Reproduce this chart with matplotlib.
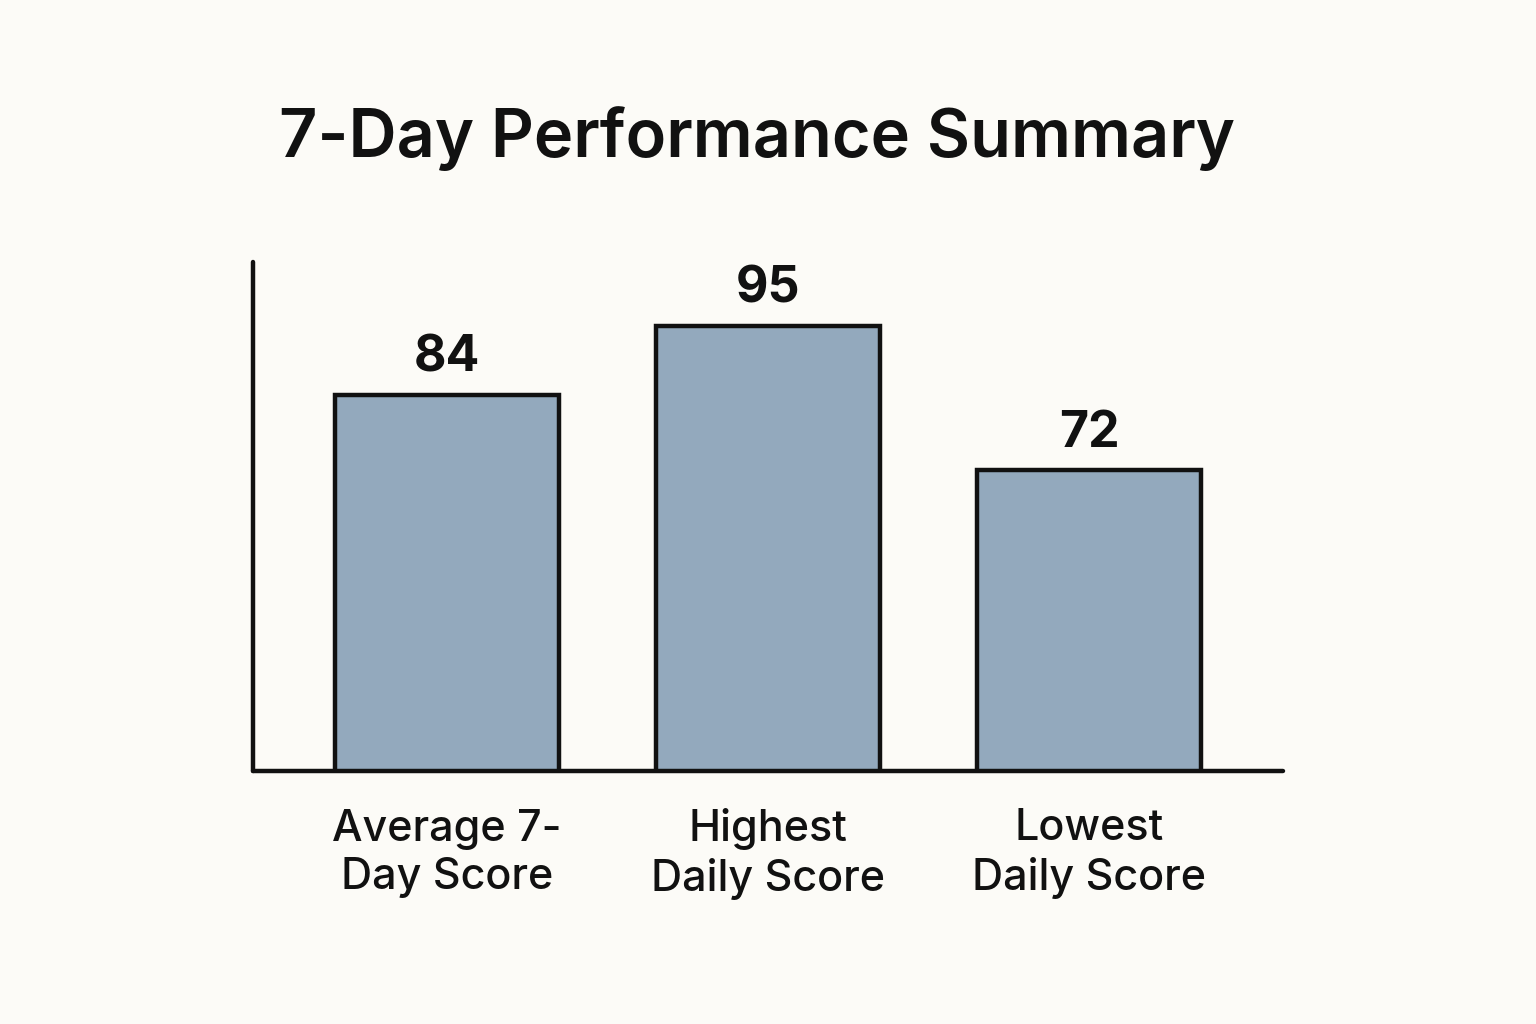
import numpy as np
import matplotlib.pyplot as plt

categories = ['Average 7-\nDay Score', 'Highest\nDaily Score', 'Lowest\nDaily Score']
scores = [84, 95, 72]

bg = '#fcfbf7'
bar_color = '#93a9bd'
ink = '#111111'

plt.rcParams['font.family'] = ['Inter', 'DejaVu Sans']

fig = plt.figure(figsize=(15.36, 10.24), dpi=100, facecolor=bg)
ax = fig.add_axes([253/1536, 1-771/1024, (1283-253)/1536, (771-262)/1024])
ax.set_facecolor(bg)

x = np.arange(len(scores))
ax.bar(x, scores, width=0.70, color=bar_color, edgecolor=ink, linewidth=3.2, zorder=2)

for xi, v in zip(x, scores):
    ax.annotate(str(v), (xi, v), xytext=(0, 17), textcoords='offset points',
                ha='center', va='baseline', fontsize=36, fontweight='bold', color=ink)

ax.set_xlim(-0.604, 2.604)
ax.set_ylim(24, 105.3)
ax.set_xticks(x)
ax.set_xticklabels(categories, fontsize=31, fontweight='medium', color=ink, linespacing=1.24)
ax.tick_params(axis='x', length=0, pad=27)
ax.set_yticks([])
for s in ['top', 'right']:
    ax.spines[s].set_visible(False)
for s in ['left', 'bottom']:
    ax.spines[s].set_linewidth(3.2)
    ax.spines[s].set_color(ink)
    ax.spines[s].set_capstyle('round')

fig.text(757/1536, 1-157/1024, '7-Day Performance Summary', ha='center', va='baseline',
         fontsize=48, fontweight='semibold', color=ink)

fig.savefig('out.png', dpi=100, facecolor=bg)
